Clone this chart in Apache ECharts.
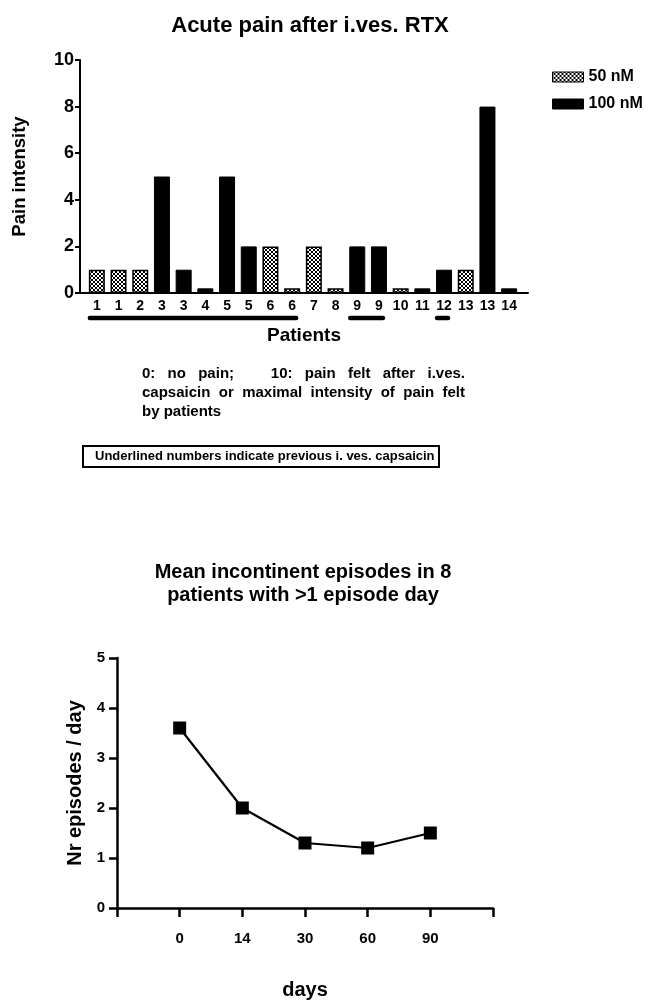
<!DOCTYPE html>
<html>
<head>
<meta charset="utf-8">
<script src="https://cdn.jsdelivr.net/npm/echarts@6/dist/echarts.min.js"></script>
<style>
html,body{margin:0;padding:0;background:#fff;}
#main{width:648px;height:1001px;}
</style>
</head>
<body>
<div id="main"></div>
<script>
// ---- Data: top chart ----
const patients = ['1','1','2','3','3','4','5','5','6','6','7','8','9','9','10','11','12','13','13','14'];
const pain50 = [1,1,1,null,null,null,null,null,2,0.2,2,0.2,null,null,0.2,null,null,1,null,null];
const pain100 = [null,null,null,5,1,0.2,5,2,null,null,null,null,2,2,null,0.2,1,null,8,0.2];
const underlinedGroups = [[0,9],[12,13],[16,16]];
// ---- Data: bottom chart ----
const dayLabels = ['', '0', '14', '30', '60', '90', ''];
const episodes = [null, 3.6, 2.0, 1.3, 1.2, 1.5, null];
// ---- Notes ----
const noteLine1 = ['0:', 'no', 'pain;', '10:', 'pain', 'felt', 'after', 'i.ves.'];
const noteLine2 = 'capsaicin or maximal intensity of pain felt';
const noteLine3 = 'by patients';
const boxNote = 'Underlined numbers indicate previous i. ves. capsaicin';

const FONT = '"Liberation Sans", Arial, sans-serif';

// crosshatch pattern
const pc = document.createElement('canvas');
pc.width = 4; pc.height = 4;
const g = pc.getContext('2d');
g.fillStyle = '#fff'; g.fillRect(0,0,4,4);
g.strokeStyle = '#000'; g.lineWidth = 1;
g.beginPath();
g.moveTo(0,0); g.lineTo(4,4);
g.moveTo(4,0); g.lineTo(0,4);
g.stroke();
const hatch = {image: pc, repeat: 'repeat'};

const chart = echarts.init(document.getElementById('main'), null, {renderer: 'canvas'});

const NOTE_FONT = 'bold 15px ' + FONT;
const txt = (x, y, s, font) => ({
  type: 'text', x: x, y: y,
  style: {text: s, font: font, fill: '#000', verticalAlign: 'middle'}
});

// justified text layout
const mc = document.createElement('canvas').getContext('2d');
mc.font = NOTE_FONT;
function justify(words, x0, x1, y, weights) {
  const widths = words.map(w => mc.measureText(w).width);
  const total = widths.reduce((a, b) => a + b, 0);
  const gw = weights || words.slice(1).map(() => 1);
  const wsum = gw.reduce((a, b) => a + b, 0);
  const unit = (x1 - x0 - total) / wsum;
  const out = [];
  let x = x0;
  words.forEach((w, i) => {
    out.push(txt(x, y, w, NOTE_FONT));
    x += widths[i] + (i < gw.length ? gw[i] * unit : 0);
  });
  return out;
}

const option = {
  animation: false,
  backgroundColor: '#fff',
  textStyle: {fontFamily: FONT},
  title: [
    {text: 'Acute pain after i.ves. RTX', left: 305, top: 10, textAlign: 'center',
     textStyle: {fontSize: 22, fontWeight: 'bold', color: '#000', fontFamily: FONT}},
    {text: 'Mean incontinent episodes in 8\npatients with >1 episode day', left: 298, top: 556, textAlign: 'center',
     textStyle: {fontSize: 20, fontWeight: 'bold', color: '#000', fontFamily: FONT, lineHeight: 23}}
  ],
  legend: {
    orient: 'vertical', left: 552, top: 69, padding: 0, itemWidth: 31, itemHeight: 10, itemGap: 11,
    icon: 'rect', itemStyle: {borderColor: '#000', borderWidth: 1},
    data: ['50 nM', '100 nM'],
    textStyle: {fontSize: 16, fontWeight: 'bold', color: '#000', fontFamily: FONT}
  },
  grid: [
    {left: 86, width: 434, top: 60, height: 233},
    {left: 80, width: 448, top: 60, height: 233},
    {left: 117, width: 376, top: 658, height: 252}
  ],
  xAxis: [
    {gridIndex: 0, type: 'category', data: patients,
     axisLine: {show: false}, axisTick: {show: false},
     axisLabel: {interval: 0, fontSize: 14, fontWeight: 'bold', color: '#000', margin: 6}},
    {gridIndex: 1, type: 'value', min: 0, max: 1,
     axisLine: {show: true, lineStyle: {color: '#000', width: 2}},
     axisTick: {show: false}, axisLabel: {show: false}, splitLine: {show: false},
     name: 'Patients', nameLocation: 'middle', nameGap: 33,
     nameTextStyle: {fontSize: 19, fontWeight: 'bold', color: '#000'}},
    {gridIndex: 2, type: 'category', data: dayLabels, boundaryGap: false,
     axisLine: {show: true, lineStyle: {color: '#000', width: 2.5}},
     axisTick: {show: true, interval: 0, length: 9, inside: false, lineStyle: {color: '#000', width: 2.5}},
     axisLabel: {interval: 0, fontSize: 15, fontWeight: 'bold', color: '#000', margin: 23},
     name: 'days', nameLocation: 'middle', nameGap: 72,
     nameTextStyle: {fontSize: 20, fontWeight: 'bold', color: '#000'}}
  ],
  yAxis: [
    {gridIndex: 0, type: 'value', min: 0, max: 10, show: false},
    {gridIndex: 1, type: 'value', min: 0, max: 10, interval: 2,
     axisLine: {show: true, lineStyle: {color: '#000', width: 2}},
     axisTick: {show: true, length: 5, lineStyle: {color: '#000', width: 2}},
     axisLabel: {fontSize: 18, fontWeight: 'bold', color: '#000', margin: 6},
     splitLine: {show: false},
     name: 'Pain intensity', nameLocation: 'middle', nameGap: 51, nameRotate: 90,
     nameTextStyle: {fontSize: 18.5, fontWeight: 'bold', color: '#000'}},
    {gridIndex: 2, type: 'value', min: 0, max: 5, interval: 1,
     axisLine: {show: true, lineStyle: {color: '#000', width: 2.5}},
     axisTick: {show: true, length: 8, lineStyle: {color: '#000', width: 2.5}},
     axisLabel: {fontSize: 15, fontWeight: 'bold', color: '#000', margin: 12},
     splitLine: {show: false},
     name: 'Nr episodes / day', nameLocation: 'middle', nameGap: 29, nameRotate: 90,
     nameTextStyle: {fontSize: 20, fontWeight: 'bold', color: '#000'}}
  ],
  series: [
    {name: '50 nM', type: 'bar', xAxisIndex: 0, yAxisIndex: 0, data: pain50,
     barWidth: 16, barGap: '-100%',
     itemStyle: {color: hatch, borderColor: '#000', borderWidth: 1.5}},
    {name: '100 nM', type: 'bar', xAxisIndex: 0, yAxisIndex: 0, data: pain100,
     barWidth: 16, barGap: '-100%',
     itemStyle: {color: '#000', borderColor: '#000', borderWidth: 1}},
    {name: 'underline', type: 'custom', xAxisIndex: 0, yAxisIndex: 0, clip: false,
     data: underlinedGroups, silent: true,
     renderItem: function (params, api) {
       const a = api.coord([api.value(0), 0]);
       const b = api.coord([api.value(1), 0]);
       return {type: 'line',
         shape: {x1: a[0] - 7, y1: a[1] + 25, x2: b[0] + 4, y2: b[1] + 25},
         style: {stroke: '#000', lineWidth: 4.5, lineCap: 'round'}};
     }},
    {name: 'episodes', type: 'line', xAxisIndex: 2, yAxisIndex: 2, data: episodes,
     symbol: 'rect', symbolSize: 13, connectNulls: false,
     lineStyle: {color: '#000', width: 2.2}, itemStyle: {color: '#000'}}
  ],
  graphic: [
    ...justify(noteLine1, 142, 465, 374, [1, 1, 3, 1, 1, 1, 1]),
    ...justify(noteLine2.split(' '), 142, 465, 393),
    txt(142, 412, noteLine3, NOTE_FONT),
    {type: 'rect', shape: {x: 83, y: 446, width: 356, height: 21},
     style: {fill: 'none', stroke: '#000', lineWidth: 2}},
    txt(95, 456.5, boxNote, 'bold 13px ' + FONT)
  ]
};
chart.setOption(option);
</script>
</body>
</html>
